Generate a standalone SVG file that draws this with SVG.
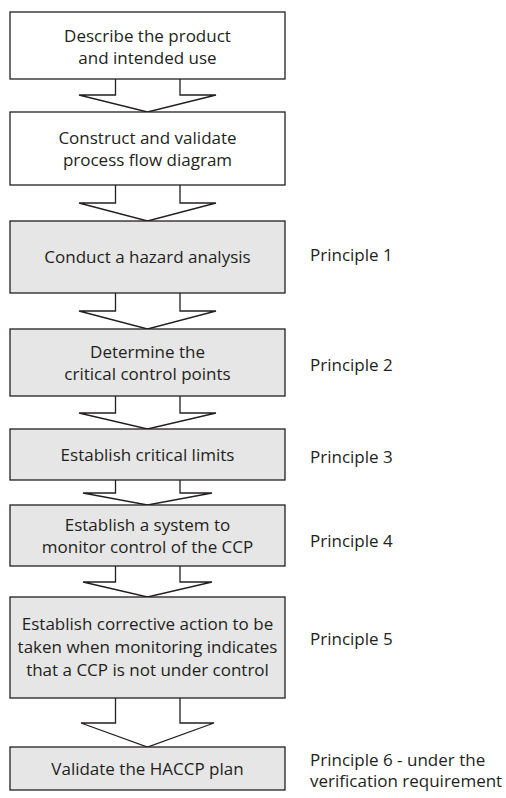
<svg xmlns="http://www.w3.org/2000/svg" width="506" height="798" viewBox="0 0 506 798">
  <style>
    .box { stroke: #231f20; stroke-width: 1.3; }
    .plain { fill: #ffffff; }
    .shade { fill: #e6e6e6; }
    .arrow { fill: #ffffff; stroke: #231f20; stroke-width: 1.3; stroke-linejoin: miter; }
    text { font-family: "Open Sans", "Noto Sans", "DejaVu Sans", sans-serif; font-size: 17px; fill: #231f20; }
    .c { text-anchor: middle; }
  </style>
  <rect width="506" height="798" fill="#ffffff"/>

  <!-- block arrows between steps -->
  <g id="connectors">
    <path class="arrow" d="M115.5,79 V95 H79 L147.5,112 L216,95 H180 V79"/>
    <path class="arrow" d="M115.5,185 V203 H79 L147.5,221 L216,203 H180 V185"/>
    <path class="arrow" d="M115.5,293 V311 H79 L147.5,329 L216,311 H180 V293"/>
    <path class="arrow" d="M115.5,396 V413 H79 L147.5,429 L216,413 H180 V396"/>
    <path class="arrow" d="M115.5,480 V493 H83 L147.5,505 L212,493 H180 V480"/>
    <path class="arrow" d="M115.5,566 V582 H83 L147.5,597 L212,582 H180 V566"/>
    <path class="arrow" d="M115.5,698 V723 H81 L147.5,747 L214,723 H180 V698"/>
  </g>

  <g id="step-describe">
    <rect class="box plain" x="10" y="12" width="275" height="67"/>
    <text class="c" x="147.5" y="41.5">Describe the product</text>
    <text class="c" x="147.5" y="63.5">and intended use</text>
  </g>

  <g id="step-flow-diagram">
    <rect class="box plain" x="10" y="112" width="275" height="73"/>
    <text class="c" x="147.5" y="143.5">Construct and validate</text>
    <text class="c" x="147.5" y="165.5">process flow diagram</text>
  </g>

  <g id="step-hazard">
    <rect class="box shade" x="10" y="221" width="275" height="72"/>
    <text class="c" x="147.5" y="263">Conduct a hazard analysis</text>
  </g>

  <g id="step-ccp">
    <rect class="box shade" x="10" y="329" width="275" height="67"/>
    <text class="c" x="147.5" y="357.5">Determine the</text>
    <text class="c" x="147.5" y="379.5">critical control points</text>
  </g>

  <g id="step-limits">
    <rect class="box shade" x="10" y="429" width="275" height="51"/>
    <text class="c" x="147.5" y="460.5">Establish critical limits</text>
  </g>

  <g id="step-monitor">
    <rect class="box shade" x="10" y="505" width="275" height="61"/>
    <text class="c" x="147.5" y="530.5">Establish a system to</text>
    <text class="c" x="147.5" y="552.5">monitor control of the CCP</text>
  </g>

  <g id="step-corrective">
    <rect class="box shade" x="10" y="597" width="275" height="101"/>
    <text class="c" x="147.5" y="630">Establish corrective action to be</text>
    <text class="c" x="147.5" y="653">taken when monitoring indicates</text>
    <text class="c" x="147.5" y="676">that a CCP is not under control</text>
  </g>

  <g id="step-validate">
    <rect class="box shade" x="10" y="747" width="275" height="43"/>
    <text class="c" x="147.5" y="775">Validate the HACCP plan</text>
  </g>

  <!-- principle labels -->
  <g id="principles">
    <text x="310" y="261">Principle 1</text>
    <text x="310" y="371">Principle 2</text>
    <text x="310" y="463">Principle 3</text>
    <text x="310" y="546.5">Principle 4</text>
    <text x="310" y="645">Principle 5</text>
    <text x="310" y="765.5">Principle 6 - under the</text>
    <text x="310" y="787">verification requirement</text>
  </g>
</svg>
